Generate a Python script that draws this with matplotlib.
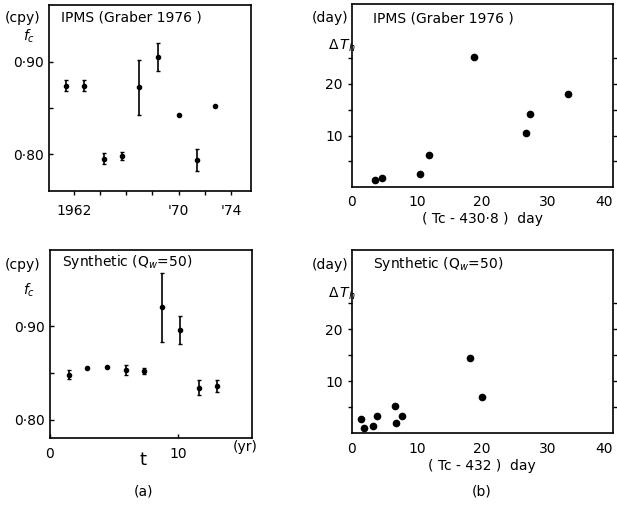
import matplotlib
matplotlib.use("Agg")
import matplotlib.pyplot as plt

# --------------------------
# Daten
# --------------------------
# (a) oben: IPMS (Graber 1976)
ipms_year = [1961.4, 1962.8, 1964.3, 1965.7, 1967.0, 1968.4, 1970.0, 1971.4, 1972.8]
ipms_fc = [0.874, 0.874, 0.795, 0.798, 0.872, 0.905, 0.842, 0.794, 0.852]
ipms_err = [0.006, 0.006, 0.006, 0.004, 0.030, 0.015, 0.0, 0.012, 0.0]

# (a) unten: Synthetic (Qw=50)
syn_t = [1.5, 2.9, 4.4, 5.9, 7.3, 8.7, 10.1, 11.6, 13.0]
syn_fc = [0.848, 0.855, 0.856, 0.853, 0.852, 0.920, 0.896, 0.834, 0.836]
syn_err = [0.005, 0.0, 0.0, 0.005, 0.003, 0.037, 0.015, 0.008, 0.006]

# (b) oben: IPMS
ipms_tc = [3.6, 4.6, 10.5, 11.9, 18.8, 26.7, 27.3, 33.2]
ipms_dth = [1.3, 1.8, 2.5, 6.2, 25.3, 10.5, 14.1, 18.1]

# (b) unten: Synthetic
syn_tc = [1.5, 1.9, 3.2, 3.9, 6.7, 6.8, 7.7, 18.1, 19.9]
syn_dth = [2.7, 1.1, 1.4, 3.4, 5.3, 2.0, 3.4, 14.4, 7.0]

plt.rcParams["font.family"] = "DejaVu Sans"
plt.rcParams["font.size"] = 10

fig = plt.figure(figsize=(6.17, 5.07), dpi=100)

ax1 = fig.add_axes([0.0794, 0.623, 0.327, 0.367])
ax2 = fig.add_axes([0.570, 0.631, 0.423, 0.361])
ax3 = fig.add_axes([0.081, 0.1355, 0.327, 0.371])
ax4 = fig.add_axes([0.570, 0.145, 0.423, 0.362])

for ax in (ax1, ax2, ax3, ax4):
    for s in ax.spines.values():
        s.set_linewidth(1.2)
    ax.tick_params(length=3, width=1, labelsize=10)

# --------------------------
# (a) oben
# --------------------------
ax1.errorbar(ipms_year, ipms_fc, yerr=ipms_err, fmt="o", color="black",
             ms=3, elinewidth=1.2, capsize=1.5, capthick=1)
ax1.set_xlim(1960.1, 1975.5)
ax1.set_ylim(0.760, 0.961)
ax1.set_xticks([1962, 1964, 1966, 1968, 1970, 1972, 1974])
ax1.set_xticklabels(["1962", "", "", "", "'70", "", "'74"])
ax1.set_yticks([0.80, 0.85, 0.90])
ax1.set_yticklabels(["0·80", "", "0·90"])
ax1.tick_params(axis="y", direction="in")
ax1.tick_params(axis="x", direction="out", pad=6)
ax1.text(0.06, 0.97, "IPMS (Graber 1976 )", transform=ax1.transAxes,
         ha="left", va="top")
fig.text(0.008, 0.965, "(cpy)", ha="left", va="center")
fig.text(0.038, 0.928, "$f_c$", ha="left", va="center")

# --------------------------
# (b) oben
# --------------------------
ax2.plot(ipms_tc, ipms_dth, "o", color="black", ms=4.5)
ax2.set_xlim(0, 40)
ax2.set_ylim(0, 35.5)
ax2.set_xticks([0, 10, 20, 30, 40])
ax2.set_yticks([5, 10, 15, 20, 25])
ax2.set_yticklabels(["", "10", "", "20", ""])
ax2.tick_params(axis="both", direction="out", right=True)
ax2.tick_params(axis="x", length=0, pad=6)
ax2.get_xticklabels()[-1].set_horizontalalignment("right")
ax2.set_xlabel("( Tc - 430·8 )  day", labelpad=2)
ax2.text(0.08, 0.96, "IPMS (Graber 1976 )", transform=ax2.transAxes,
         ha="left", va="top")
fig.text(0.505, 0.965, "(day)", ha="left", va="center")
fig.text(0.532, 0.910, r"$\Delta\,T_h$", ha="left", va="center")

# --------------------------
# (a) unten
# --------------------------
ax3.errorbar(syn_t, syn_fc, yerr=syn_err, fmt="o", color="black",
             ms=3, elinewidth=1.2, capsize=1.5, capthick=1)
ax3.set_xlim(0, 15.7)
ax3.set_ylim(0.780, 0.981)
ax3.set_xticks([0, 10])
ax3.set_yticks([0.80, 0.85, 0.90])
ax3.set_yticklabels(["0·80", "", "0·90"])
ax3.tick_params(direction="in")
ax3.tick_params(axis="x", pad=6)
ax3.text(0.06, 0.985, "Synthetic (Q$_w$=50)", transform=ax3.transAxes,
         ha="left", va="top")
fig.text(0.008, 0.478, "(cpy)", ha="left", va="center")
fig.text(0.038, 0.428, "$f_c$", ha="left", va="center")
fig.text(0.232, 0.093, "t", ha="center", va="center", fontsize=13)
fig.text(0.397, 0.118, "(yr)", ha="center", va="center")
fig.text(0.232, 0.030, "(a)", ha="center", va="center")

# --------------------------
# (b) unten
# --------------------------
ax4.plot(syn_tc, syn_dth, "o", color="black", ms=4.5)
ax4.set_xlim(0, 40)
ax4.set_ylim(0, 35.2)
ax4.set_xticks([0, 10, 20, 30, 40])
ax4.set_yticks([5, 10, 15, 20, 25])
ax4.set_yticklabels(["", "10", "", "20", ""])
ax4.tick_params(axis="both", direction="out", right=True)
ax4.tick_params(axis="x", length=0, pad=6)
ax4.get_xticklabels()[-1].set_horizontalalignment("right")
ax4.set_xlabel("( Tc - 432 )  day", labelpad=2)
ax4.text(0.08, 0.975, "Synthetic (Q$_w$=50)", transform=ax4.transAxes,
         ha="left", va="top")
fig.text(0.505, 0.478, "(day)", ha="left", va="center")
fig.text(0.532, 0.420, r"$\Delta\,T_h$", ha="left", va="center")
fig.text(0.780, 0.030, "(b)", ha="center", va="center")

fig.savefig("out.png", dpi=100)
